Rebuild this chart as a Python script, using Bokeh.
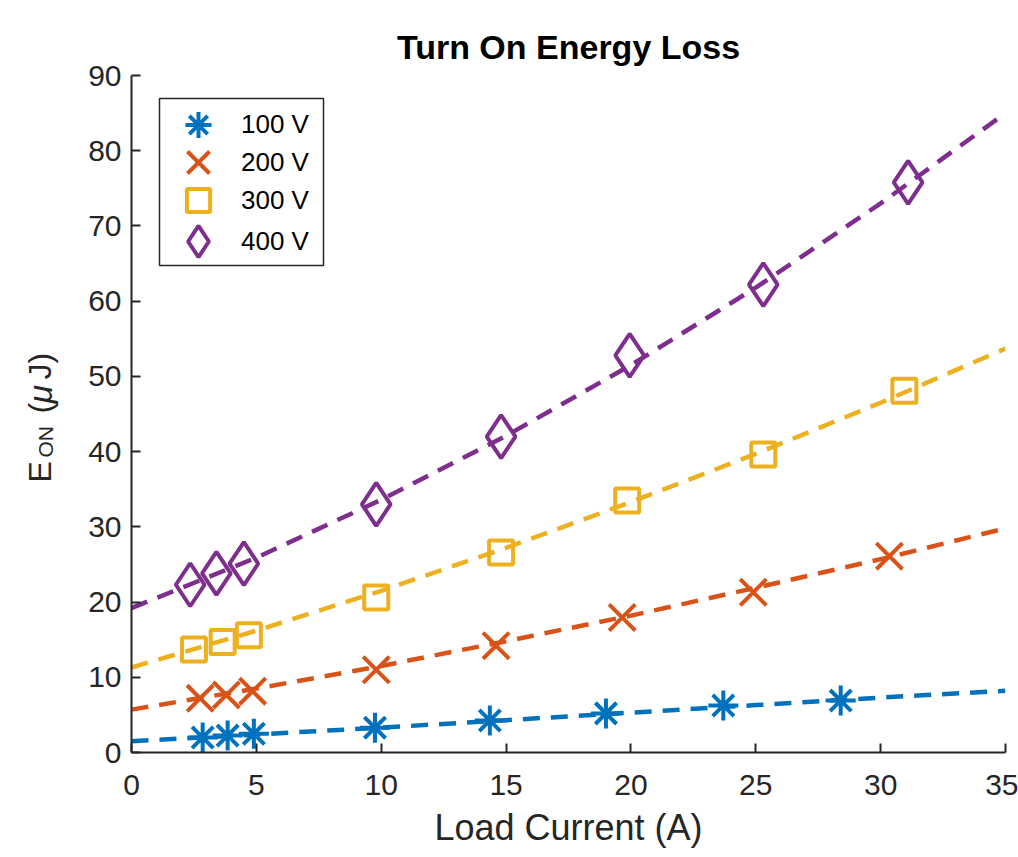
import math
from bokeh.plotting import figure
from bokeh.layouts import row
from bokeh.models import Range1d, FixedTicker, Legend, LegendItem, BoxAnnotation
from bokeh.core.properties import value
from bokeh.embed import file_html
from bokeh.resources import INLINE

# ---------------- data ----------------
series_labels = ["100 V", "200 V", "300 V", "400 V"]
colors = ["#0072BD", "#D95319", "#EDB120", "#7E2F8E"]
markers = ["asterisk", "x", "square", "diamond"]

i_100 = [2.85, 3.85, 4.9, 9.75, 14.35, 19.0, 23.7, 28.4]
e_100 = [2.0, 2.25, 2.5, 3.3, 4.25, 5.2, 6.25, 6.9]
i_200 = [2.75, 3.8, 4.85, 9.8, 14.6, 19.65, 24.9, 30.35]
e_200 = [7.2, 7.65, 8.15, 11.0, 14.2, 17.95, 21.3, 26.1]
i_300 = [2.5, 3.65, 4.7, 9.8, 14.8, 19.85, 25.3, 30.95]
e_300 = [13.7, 14.7, 15.6, 20.6, 26.6, 33.5, 39.6, 48.1]
i_400 = [2.35, 3.4, 4.5, 9.8, 14.8, 19.95, 25.3, 31.1]
e_400 = [22.3, 23.8, 25.1, 33.0, 42.0, 52.8, 62.2, 75.8]

fit_i = [0, 5, 10, 15, 20, 25, 30, 35]
fit_100 = [1.5, 2.4, 3.3, 4.3, 5.3, 6.3, 7.3, 8.2]
fit_200 = [5.7, 8.5, 11.5, 14.8, 18.2, 21.9, 25.7, 29.8]
fit_300 = [11.3, 16.2, 21.5, 27.2, 33.3, 39.7, 46.5, 53.7]
fit_400 = [19.2, 25.9, 33.6, 42.1, 51.5, 61.8, 73.0, 85.0]

x_ticks = [0, 5, 10, 15, 20, 25, 30, 35]
y_ticks = [0, 10, 20, 30, 40, 50, 60, 70, 80, 90]

title_text = "Turn On Energy Loss"
x_label = "Load Current (A)"
# y label pieces: E, subscript ON, "(", italic mu, "J)"
y_label_parts = ["E", "ON", "(", "\u03bc", "J)"]

FONT = "Liberation Sans"
AX = "#262626"
LW = 70  # width of the strip that holds the y-axis title
H = 857
F_TOP, F_BOT, F_LEFT, F_RIGHT = 75, 752, 131, 1005   # frame edges in page px
XSCALE = (F_RIGHT - F_LEFT) / 35.0
YSCALE = (F_BOT - F_TOP) / 90.0

# ---------------- main plot ----------------
p = figure(width=1018 - LW, height=H, output_backend="svg", toolbar_location=None,
           x_range=Range1d(0, 35), y_range=Range1d(0, 90),
           min_border_left=F_LEFT - LW, min_border_right=1018 - F_RIGHT,
           min_border_top=F_TOP, min_border_bottom=H - F_BOT)
p.title.text = title_text
p.title.text_font = FONT
p.title.text_font_size = "34px"
p.title.text_font_style = "bold"
p.title.text_color = "black"
p.title.align = "center"
p.title.standoff = 19

p.grid.visible = False
p.outline_line_color = None
p.background_fill_color = "white"
p.border_fill_color = "white"

for ax in (p.xaxis[0], p.yaxis[0]):
    ax.axis_line_color = AX
    ax.axis_line_width = 2
    ax.major_tick_line_color = AX
    ax.major_tick_line_width = 2
    ax.major_tick_in = 9
    ax.major_tick_out = 0
    ax.minor_tick_line_color = None
    ax.major_label_text_font = FONT
    ax.major_label_text_font_size = "30px"
    ax.major_label_text_color = AX
p.yaxis.major_label_standoff = 10
p.xaxis.major_label_standoff = 22

p.xaxis.ticker = FixedTicker(ticks=x_ticks)
p.yaxis.ticker = FixedTicker(ticks=y_ticks)
p.xaxis.axis_label = x_label
p.xaxis.axis_label_text_font = FONT
p.xaxis.axis_label_text_font_size = "36px"
p.xaxis.axis_label_text_font_style = "normal"
p.xaxis.axis_label_text_color = AX
p.xaxis.axis_label_standoff = 9

fits = [fit_100, fit_200, fit_300, fit_400]
xs = [i_100, i_200, i_300, i_400]
ys = [e_100, e_200, e_300, e_400]
sizes = [30, 37, 24, 43]

for k in range(4):
    p.line(fit_i, fits[k], line_color=colors[k], line_width=4.5, line_dash="17 11")

renderers = []
for k in range(4):
    r = p.scatter(xs[k], ys[k], marker=markers[k], size=sizes[k],
                  line_color=colors[k], fill_color=None, line_width=4)
    renderers.append(r)

# ---------------- legend (framed box + one legend row per series) ----------------
LEG_L, LEG_T, LEG_R, LEG_B = 159, 98, 323, 265      # legend box in page px
row_centre = [124, 162, 200, 241]                  # legend row centres, page px
row_glyph_h = [65, 80, 58, 78]                     # sets the legend marker size
p.add_layout(BoxAnnotation(left=(LEG_L - F_LEFT) / XSCALE,
                           right=(LEG_R - F_LEFT) / XSCALE,
                           top=(F_BOT - LEG_T) / YSCALE,
                           bottom=(F_BOT - LEG_B) / YSCALE,
                           fill_color="white", fill_alpha=1,
                           line_color=AX, line_width=1.5, line_alpha=1))
for k in range(4):
    gh = row_glyph_h[k]
    leg = Legend(items=[LegendItem(label=series_labels[k], renderers=[renderers[k]])],
                 location=(LEG_L - F_LEFT, F_BOT - row_centre[k] - gh / 2))
    leg.label_text_font = FONT
    leg.label_text_font_size = "26px"
    leg.label_text_color = "black"
    leg.glyph_width = 78
    leg.glyph_height = gh
    leg.label_height = 30
    leg.spacing = 0
    leg.padding = 0
    leg.margin = 0
    leg.label_standoff = 4
    leg.border_line_color = None
    leg.background_fill_alpha = 0
    p.add_layout(leg, "center")

# ---------------- y-axis title strip ----------------
# its frame lines up with the main frame; coordinates are page px (y from bottom)
q = figure(width=LW, height=H, output_backend="svg", toolbar_location=None,
           x_range=Range1d(0, LW), y_range=Range1d(H - F_BOT, H - F_TOP),
           min_border_left=0, min_border_right=0, min_border_top=F_TOP,
           min_border_bottom=H - F_BOT, x_axis_location=None, y_axis_location=None)
q.grid.visible = False
q.outline_line_color = None
q.background_fill_color = "white"
q.border_fill_color = "white"

lab_mid_x = [39, 45, 39, 39, 39]       # text mid-line, page px
lab_start = [482, 457, 413, 403, 379]  # where each piece starts (bottom), page px
lab_size = ["32px", "21px", "32px", "34px", "32px"]
lab_style = ["normal", "normal", "normal", "italic", "normal"]
for t, x0, t0, fs, st in zip(y_label_parts, lab_mid_x, lab_start, lab_size, lab_style):
    q.text(x=[x0], y=[H - t0], text=[t], angle=math.pi / 2,
           text_font=value(FONT), text_font_size=value(fs),
           text_font_style=value(st), text_color=AX,
           text_align=value("left"), text_baseline=value("middle"))

layout = row(q, p, spacing=0)
open("out.html", "w").write(file_html(layout, INLINE))
